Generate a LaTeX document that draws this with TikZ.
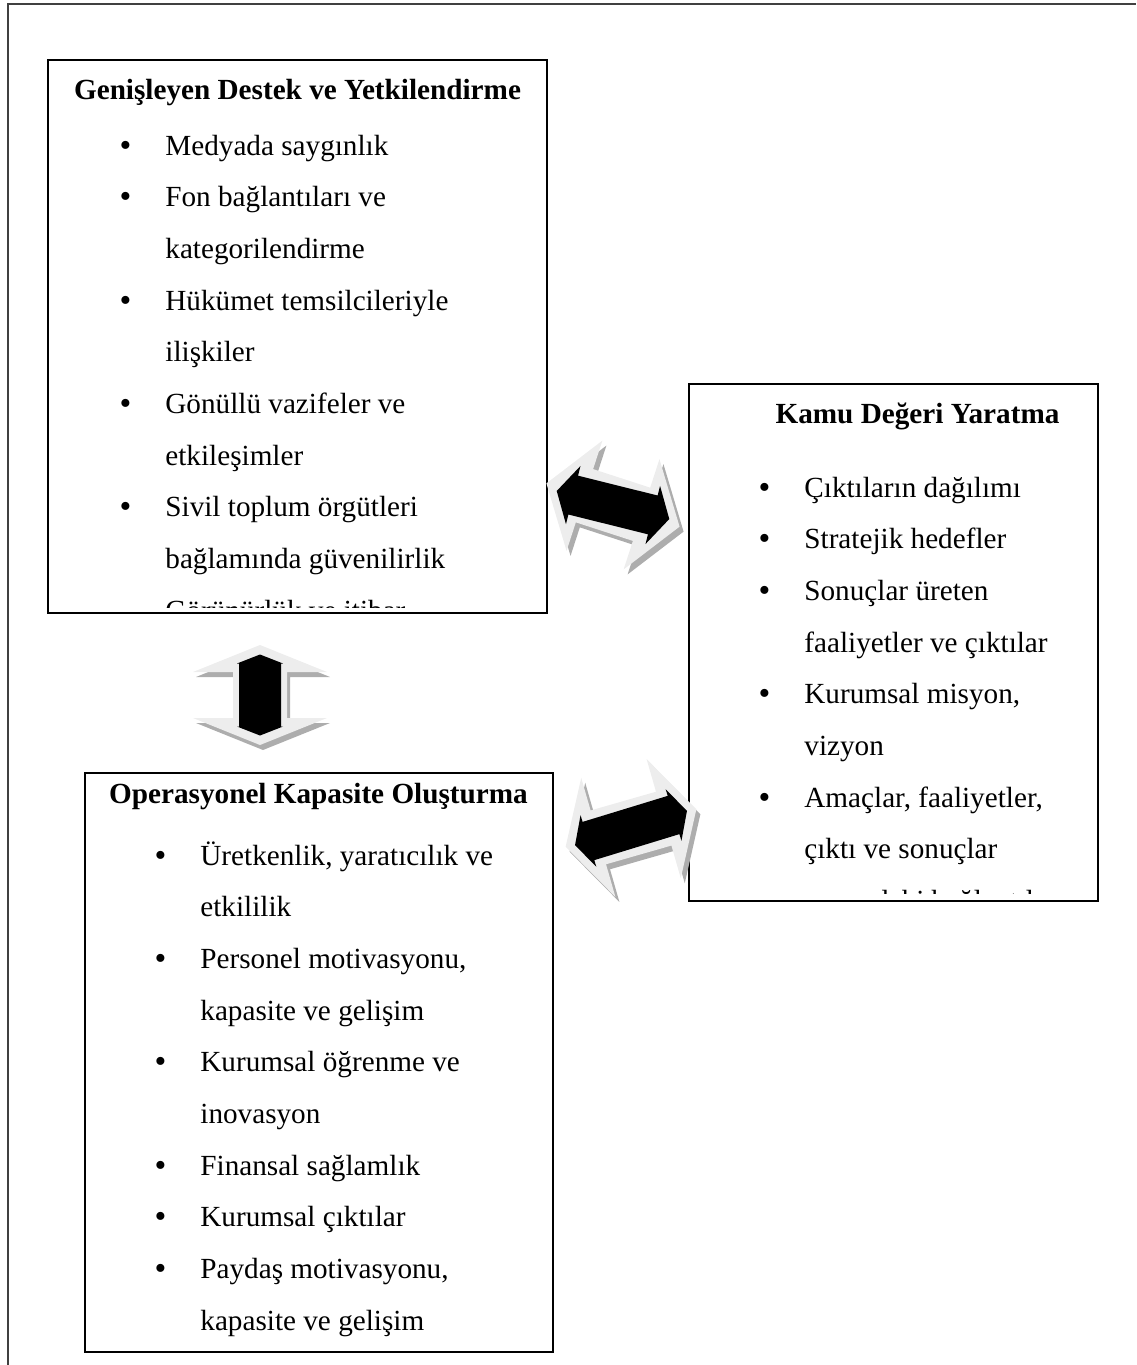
\documentclass[tikz,border=0pt]{standalone}
\usepackage{fontspec}
\setmainfont{Liberation Serif}
\usetikzlibrary{fit,calc}

\definecolor{bevel}{gray}{0.93}
\definecolor{bevelshadow}{gray}{0.68}
\definecolor{framegray}{gray}{0.25}

% bullet hanging 20pt in front of the item text
\newcommand\blt{\makebox[20pt][l]{\makebox[0pt][c]{\raisebox{-0.5pt}{\scalebox{1.15}{\textbullet}}}}}
% continuation line of an item
\newcommand\cnt{\hspace*{20pt}}
% double-headed block arrow: half length, head length, head half width, shaft half width
\newcommand\dblarrowpath[4]{(-#1,0) -- (-#1+#2,#3) -- (-#1+#2,#4) -- (#1-#2,#4) -- (#1-#2,#3) -- (#1,0) -- (#1-#2,-#3) -- (#1-#2,-#4) -- (-#1+#2,-#4) -- (-#1+#2,-#3) -- cycle}

\begin{document}
\begin{tikzpicture}[x=0.5pt, y=-0.5pt,
  box/.style={draw, line width=1pt, inner sep=0pt, fill=white},
  ttl/.style={font=\fontsize{14.6}{25.85}\selectfont\bfseries, inner sep=0pt, anchor=base},
  lst/.style={font=\fontsize{14.6}{25.85}\selectfont, inner sep=0pt, anchor=base west},
  frameline/.style={draw=framegray, line width=1pt}]

\useasboundingbox (0,0) rectangle (1136,1365);

% outer frame (open to the right and bottom)
\draw[frameline] (8,1365) -- (8,4) -- (1136,4);

% ---------- boxes ----------
\node[box, fit={(48,60) (547,613)}] (g) {};
\node[box, fit={(689,384) (1098,901)}] (k) {};
\node[box, fit={(85,773) (553,1352)}] (o) {};

% ---------- Genişleyen Destek ve Yetkilendirme ----------
\node[ttl] (g-title) at (297.5,99) {Genişleyen Destek ve Yetkilendirme};
\begin{scope}
  % text area ends a little above the frame line
  \clip ($(g.south west)+(1,-7)$) rectangle ($(g.north east)+(-1,1)$);
  \node[lst] (g-list) at (125,155) {\begin{tabular}[t]{@{}l@{}}
    \blt Medyada saygınlık\\
    \blt Fon bağlantıları ve\\
    \cnt kategorilendirme\\
    \blt Hükümet temsilcileriyle\\
    \cnt ilişkiler\\
    \blt Gönüllü vazifeler ve\\
    \cnt etkileşimler\\
    \blt Sivil toplum örgütleri\\
    \cnt bağlamında güvenilirlik\\
    \cnt Görünürlük ve itibar
  \end{tabular}};
\end{scope}

% ---------- Kamu Değeri Yaratma ----------
\node[ttl] (k-title) at (917.5,423) {Kamu Değeri Yaratma};
\begin{scope}
  \clip ($(k.south west)+(1,-9)$) rectangle ($(k.north east)+(-1,1)$);
  \node[lst] (k-list) at (764,497) {\begin{tabular}[t]{@{}l@{}}
    \blt Çıktıların dağılımı\\
    \blt Stratejik hedefler\\
    \blt Sonuçlar üreten\\
    \cnt faaliyetler ve çıktılar\\
    \blt Kurumsal misyon,\\
    \cnt vizyon\\
    \blt Amaçlar, faaliyetler,\\
    \cnt çıktı ve sonuçlar\\
    \cnt arasındaki bağlantılar
  \end{tabular}};
\end{scope}

% ---------- Operasyonel Kapasite Oluşturma ----------
\node[ttl] (o-title) at (318.5,803) {Operasyonel Kapasite Oluşturma};
\node[lst] (o-list) at (160,865) {\begin{tabular}[t]{@{}l@{}}
    \blt Üretkenlik, yaratıcılık ve\\
    \cnt etkililik\\
    \blt Personel motivasyonu,\\
    \cnt kapasite ve gelişim\\
    \blt Kurumsal öğrenme ve\\
    \cnt inovasyon\\
    \blt Finansal sağlamlık\\
    \blt Kurumsal çıktılar\\
    \blt Paydaş motivasyonu,\\
    \cnt kapasite ve gelişim
  \end{tabular}};

% ---------- bevelled double arrows ----------
\coordinate (a1) at (613,505);
\coordinate (a2) at (260,695);
\coordinate (a3) at (631,828);

% between the top-left box and the right box
\fill[bevelshadow, shift={(a1)}, shift={(4,5)}, rotate=-18] \dblarrowpath{70}{40}{58}{28};
\fill[bevel, shift={(a1)}, rotate=-18] \dblarrowpath{70}{40}{58}{28};
\fill[black, shift={(a1)}, rotate=-14] \dblarrowpath{58}{17}{30}{20};

% between the two left boxes
\fill[bevelshadow, shift={(a2)}, shift={(3,5)}, rotate=90] \dblarrowpath{50}{27}{67}{27};
\fill[bevel, shift={(a2)}, rotate=90] \dblarrowpath{50}{27}{67}{27};
\fill[black, shift={(a2)}, rotate=90] \dblarrowpath{40.5}{9}{23}{21};

% between the bottom box and the right box
\fill[bevelshadow, shift={(a3)}, shift={(4,5)}, rotate=16] \dblarrowpath{68}{34}{62}{28};
\fill[bevel, shift={(a3)}, rotate=16] \dblarrowpath{68}{34}{62}{28};
\fill[black, shift={(a3)}, rotate=17] \dblarrowpath{58.5}{14}{27}{20};

\end{tikzpicture}
\end{document}
